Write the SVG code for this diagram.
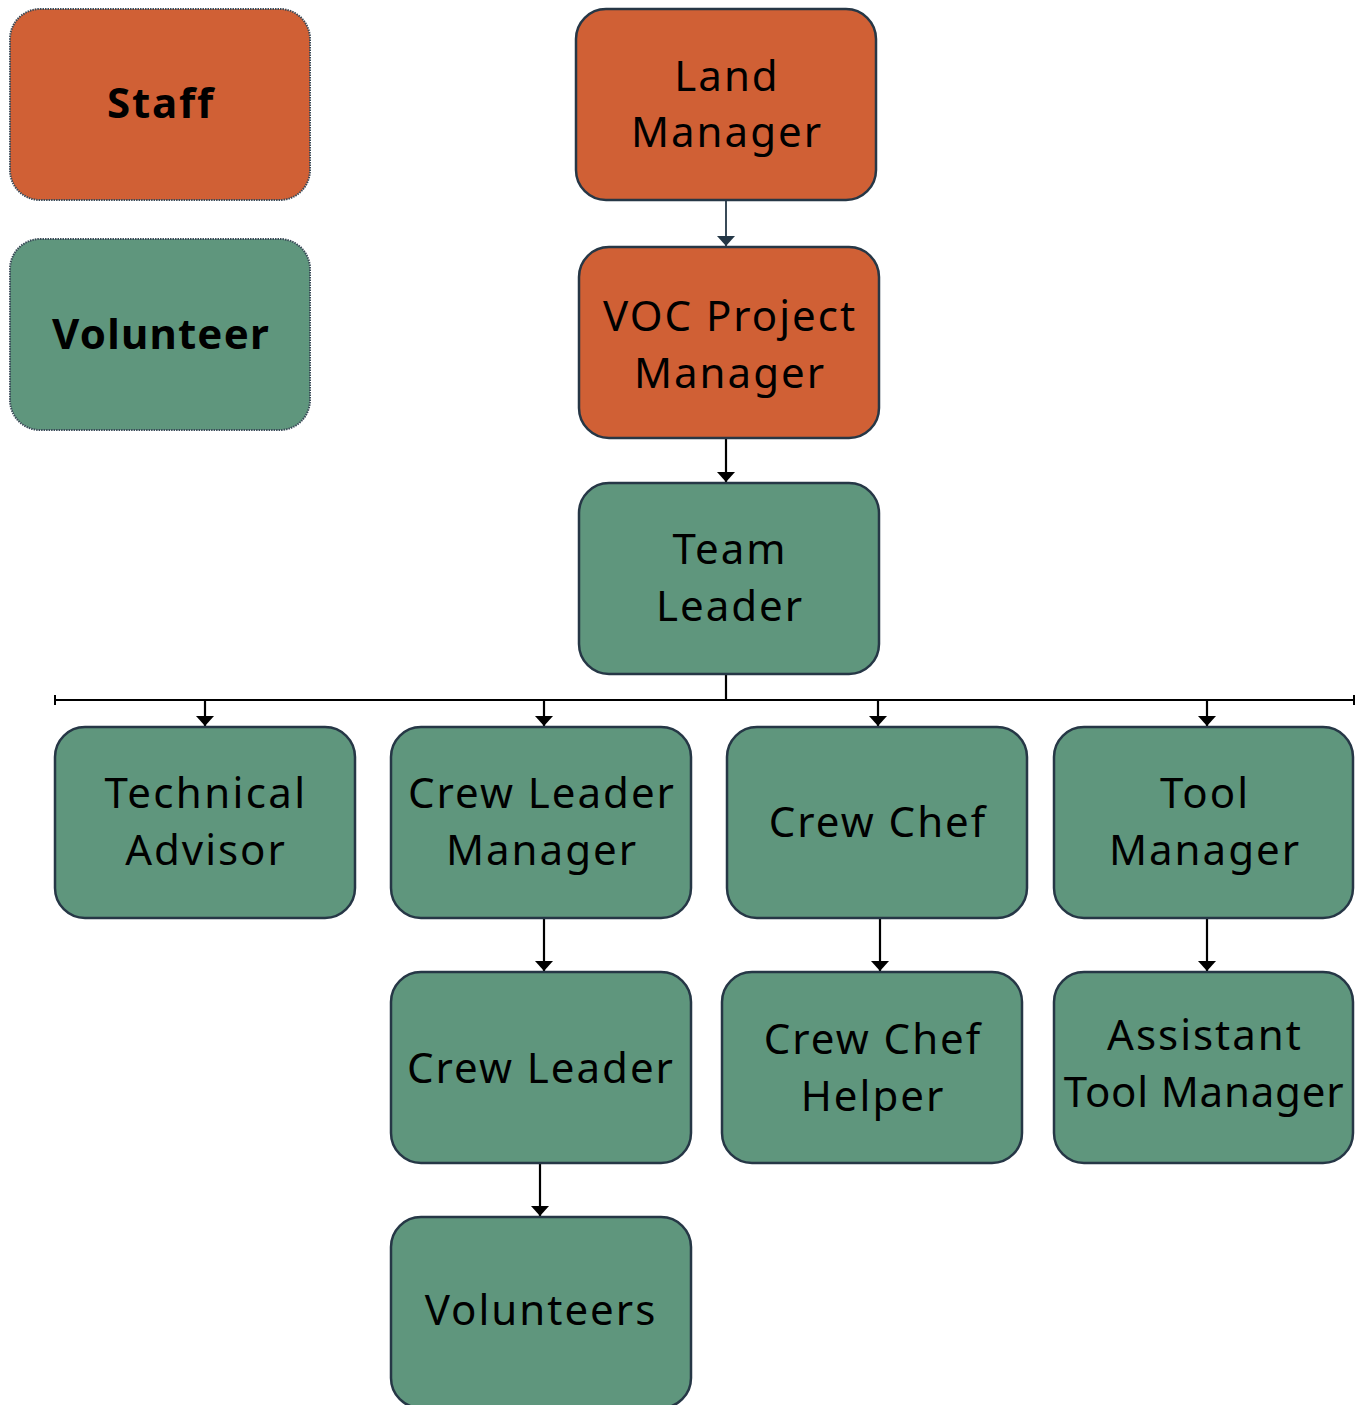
<svg xmlns="http://www.w3.org/2000/svg" width="1355" height="1405" viewBox="0 0 1355 1405">
  <defs>
    <marker id="arrow" markerUnits="userSpaceOnUse" markerWidth="12" markerHeight="20" refX="11" refY="10" orient="auto" viewBox="0 0 12 20">
      <path d="M1,1 L1,19 L11,10 Z" fill="#000"/>
    </marker>
    <marker id="arrow-d" markerUnits="userSpaceOnUse" markerWidth="12" markerHeight="20" refX="11" refY="10" orient="auto" viewBox="0 0 12 20">
      <path d="M1,1 L1,19 L11,10 Z" fill="#243746"/>
    </marker>
    <marker id="tick" markerUnits="userSpaceOnUse" markerWidth="4" markerHeight="12" refX="2" refY="6" orient="auto" viewBox="0 0 4 12">
      <rect x="1" y="1" width="2" height="10" fill="#000"/>
    </marker>
  </defs>
  <style>
    .staff { fill: #D06035; stroke: #263746; stroke-width: 2.5; }
    .vol { fill: #5F967D; stroke: #263746; stroke-width: 2.5; }
    .legend { stroke: #3a4a58; stroke-width: 2; stroke-dasharray: 1.5 1; }
    text { font-family: "Noto Sans", "Open Sans", "DejaVu Sans", sans-serif; font-size: 42px; fill: #000; text-anchor: middle; letter-spacing: 2px; }
    .bold { font-weight: bold; letter-spacing: 1.8px; }
    .conn { fill: none; stroke: #000; stroke-width: 2.2; }
    .conn-d { fill: none; stroke: #243746; stroke-width: 1.8; }
  </style>

  <rect width="1355" height="1405" fill="#fff"/>

  <!-- legend -->
  <g id="legend-staff">
    <rect class="staff legend" x="10" y="9" width="300" height="191" rx="30"/>
    <text class="bold" x="161" y="118">Staff</text>
  </g>
  <g id="legend-volunteer">
    <rect class="vol legend" x="10" y="239" width="300" height="191" rx="30"/>
    <text class="bold" x="161" y="349" style="letter-spacing:1.2px">Volunteer</text>
  </g>

  <!-- connectors -->
  <g id="connectors">
    <path class="conn-d" d="M726,200 V246" marker-end="url(#arrow-d)"/>
    <path class="conn" d="M726,438 V482" marker-end="url(#arrow)"/>
    <path class="conn" d="M726,674 V700"/>
    <path class="conn" d="M55,700 H1354" marker-start="url(#tick)" marker-end="url(#tick)"/>
    <path class="conn" d="M205,700 V726" marker-end="url(#arrow)"/>
    <path class="conn" d="M544,700 V726" marker-end="url(#arrow)"/>
    <path class="conn" d="M878,700 V726" marker-end="url(#arrow)"/>
    <path class="conn" d="M1207,700 V726" marker-end="url(#arrow)"/>
    <path class="conn" d="M544,918 V971" marker-end="url(#arrow)"/>
    <path class="conn" d="M880,918 V971" marker-end="url(#arrow)"/>
    <path class="conn" d="M1207,918 V971" marker-end="url(#arrow)"/>
    <path class="conn" d="M540,1163 V1216" marker-end="url(#arrow)"/>
  </g>

  <!-- nodes -->
  <g id="land-manager">
    <rect class="staff" x="576" y="9" width="300" height="191" rx="30"/>
    <text x="727" y="91">Land</text>
    <text x="727" y="147">Manager</text>
  </g>
  <g id="voc-project-manager">
    <rect class="staff" x="579" y="247" width="300" height="191" rx="30"/>
    <text x="730" y="331">VOC Project</text>
    <text x="730" y="388">Manager</text>
  </g>
  <g id="team-leader">
    <rect class="vol" x="579" y="483" width="300" height="191" rx="30"/>
    <text x="730" y="564">Team</text>
    <text x="730" y="621">Leader</text>
  </g>
  <g id="technical-advisor">
    <rect class="vol" x="55" y="727" width="300" height="191" rx="30"/>
    <text x="206" y="808" style="letter-spacing:2.4px">Technical</text>
    <text x="206" y="865">Advisor</text>
  </g>
  <g id="crew-leader-manager">
    <rect class="vol" x="391" y="727" width="300" height="191" rx="30"/>
    <text x="542" y="808">Crew Leader</text>
    <text x="542" y="865">Manager</text>
  </g>
  <g id="crew-chef">
    <rect class="vol" x="727" y="727" width="300" height="191" rx="30"/>
    <text x="878" y="837">Crew Chef</text>
  </g>
  <g id="tool-manager">
    <rect class="vol" x="1054" y="727" width="299" height="191" rx="30"/>
    <text x="1205" y="808">Tool</text>
    <text x="1205" y="865">Manager</text>
  </g>
  <g id="crew-leader">
    <rect class="vol" x="391" y="972" width="300" height="191" rx="30"/>
    <text x="541" y="1083">Crew Leader</text>
  </g>
  <g id="crew-chef-helper">
    <rect class="vol" x="722" y="972" width="300" height="191" rx="30"/>
    <text x="873" y="1054">Crew Chef</text>
    <text x="873" y="1111">Helper</text>
  </g>
  <g id="assistant-tool-manager">
    <rect class="vol" x="1054" y="972" width="299" height="191" rx="30"/>
    <text x="1205" y="1050">Assistant</text>
    <text x="1204" y="1107" style="letter-spacing:0.8px">Tool Manager</text>
  </g>
  <g id="volunteers">
    <rect class="vol" x="391" y="1217" width="300" height="191" rx="30"/>
    <text x="541" y="1325">Volunteers</text>
  </g>
</svg>
